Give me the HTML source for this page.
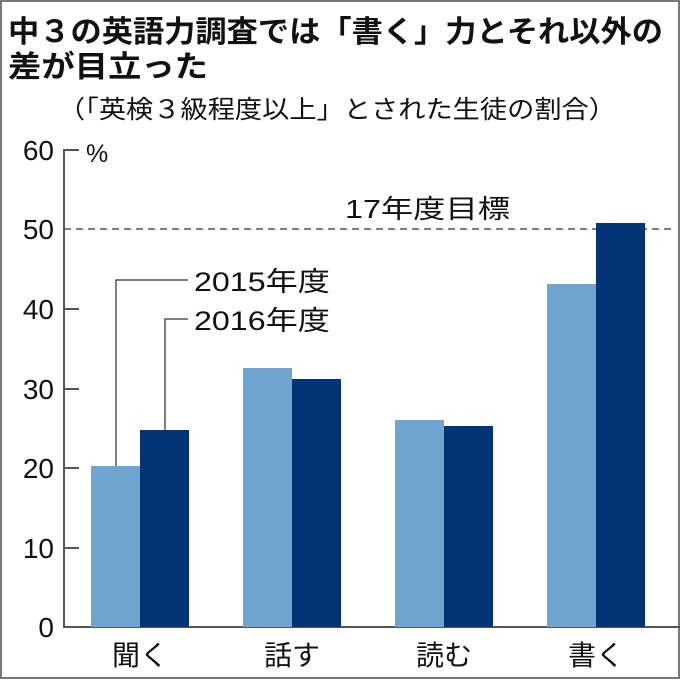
<html><head><style>
body{margin:0;background:#fff}
svg text{font-family:"Liberation Sans","Noto Sans CJK JP",sans-serif;fill:#111}
</style></head><body>
<svg width="680" height="680" viewBox="0 0 680 680">
<rect x="1" y="1" width="678" height="677" fill="none" stroke="#777" stroke-width="2"/>
<text x="8" y="42" font-size="30" font-weight="bold" textLength="655" lengthAdjust="spacingAndGlyphs">中３の英語力調査では「書く」力とそれ以外の</text>
<text x="8" y="77" font-size="30" font-weight="bold" textLength="200" lengthAdjust="spacingAndGlyphs">差が目立った</text>
<text x="58" y="118" font-size="25" textLength="558" lengthAdjust="spacingAndGlyphs">（「英検３級程度以上」とされた生徒の割合）</text>
<g stroke="#555" stroke-width="2" fill="none">
<line x1="64" y1="149" x2="64" y2="628"/>
<line x1="63" y1="627" x2="680" y2="627"/>
<line x1="64" y1="150" x2="79" y2="150"/>
<line x1="64" y1="309" x2="79" y2="309"/>
<line x1="64" y1="389" x2="79" y2="389"/>
<line x1="64" y1="468" x2="79" y2="468"/>
<line x1="64" y1="548" x2="79" y2="548"/>
</g>
<line x1="64" y1="229" x2="675" y2="229" stroke="#555" stroke-width="1.5" stroke-dasharray="7,5"/>
<g font-size="28" text-anchor="end">
<text x="54" y="160">60</text><text x="54" y="239">50</text><text x="54" y="319">40</text>
<text x="54" y="399">30</text><text x="54" y="478">20</text><text x="54" y="558">10</text><text x="54" y="637">0</text>
</g>
<text x="86" y="162" font-size="25">%</text>
<text x="345" y="218" font-size="26" textLength="165" lengthAdjust="spacingAndGlyphs">17年度目標</text>
<g fill="#6fa5cf">
<rect x="91" y="466" width="49" height="161"/>
<rect x="243" y="368" width="49" height="259"/>
<rect x="395" y="420" width="49" height="207"/>
<rect x="547" y="284" width="49" height="343"/>
</g>
<g fill="#053476">
<rect x="140" y="430" width="49" height="197"/>
<rect x="292" y="379" width="49" height="248"/>
<rect x="444" y="426" width="49" height="201"/>
<rect x="596" y="223" width="49" height="404"/>
</g>
<g stroke="#555" stroke-width="1.5" fill="none">
<polyline points="116,466 116,280 188,280"/>
<polyline points="165,430 165,319 188,319"/>
</g>
<text x="194" y="291" font-size="27" textLength="136" lengthAdjust="spacingAndGlyphs">2015年度</text>
<text x="194" y="330" font-size="27" textLength="136" lengthAdjust="spacingAndGlyphs">2016年度</text>
<g font-size="28" text-anchor="middle">
<text x="140" y="665">聞く</text><text x="292" y="665">話す</text>
<text x="444" y="665">読む</text><text x="596" y="665">書く</text>
</g>
</svg>
</body></html>
